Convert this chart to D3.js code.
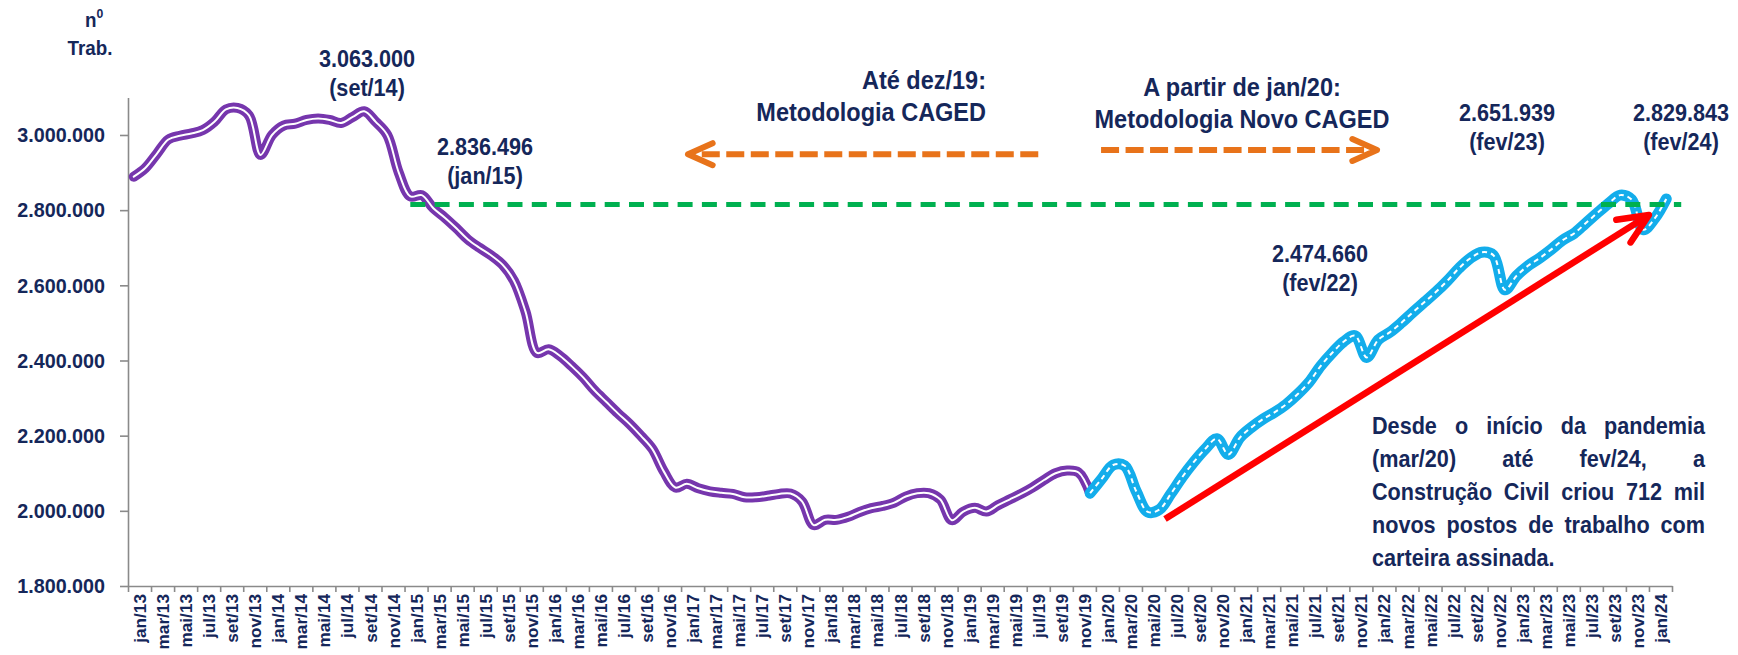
<!DOCTYPE html>
<html lang="pt-BR">
<head>
<meta charset="utf-8">
<title>Estoque de trabalhadores - Construção Civil</title>
<script src="https://cdn.jsdelivr.net/npm/d3@7/dist/d3.min.js"></script>
<style>
  html, body { margin: 0; padding: 0; background: #ffffff; }
  svg { display: block; }
  text { font-family: "Liberation Sans", Arial, sans-serif; font-weight: bold; fill: #15275a; }
</style>
</head>
<body>
<svg id="chart" width="1738" height="655"></svg>
<script>
// ---- data -------------------------------------------------------------
const monthNames = ["jan", "fev", "mar", "abr", "mai", "jun", "jul", "ago", "set", "out", "nov", "dez"];
const years = [13, 14, 15, 16, 17, 18, 19, 20, 21, 22, 23, 24];
const lastMonth = "fev/24";

// Estoque mensal de trabalhadores, metodologia CAGED (jan/13 a dez/19)
const cagedValues = [
  2889000, 2912000, 2950000, 2988000, 2998000, 3004000, 3013000, 3035000, 3068000, 3072000, 3052000, 2947000,
  3000000, 3025000, 3030000, 3040000, 3044000, 3040000, 3032000, 3048000, 3063000, 3035000, 3000000, 2900000,
  2836496, 2840000, 2805000, 2780000, 2752000, 2722000, 2700000, 2680000, 2655000, 2612000, 2530000, 2420000,
  2430000, 2412000, 2385000, 2355000, 2320000, 2290000, 2260000, 2232000, 2200000, 2165000, 2105000, 2062000,
  2072000, 2060000, 2052000, 2048000, 2045000, 2036000, 2036000, 2040000, 2045000, 2046000, 2025000, 1962000,
  1976000, 1976000, 1984000, 1997000, 2007000, 2013000, 2022000, 2038000, 2047000, 2047000, 2030000, 1975000,
  1998000, 2008000, 1998000, 2015000, 2030000, 2045000, 2062000, 2082000, 2100000, 2107000, 2102000, 2047000
];

// Estoque mensal de trabalhadores, metodologia Novo CAGED (jan/20 a fev/24)
const novoCagedValues = [
  2085000, 2122000, 2120000, 2052000, 1997000, 2003000, 2045000, 2090000, 2130000, 2165000, 2192000, 2150000,
  2195000, 2222000, 2244000, 2262000, 2283000, 2310000, 2342000, 2385000, 2420000, 2450000, 2466000, 2408000,
  2455000, 2474660, 2500000, 2528000, 2555000, 2582000, 2612000, 2645000, 2672000, 2688000, 2680000, 2588000,
  2625000, 2651939, 2672000, 2695000, 2720000, 2738000, 2765000, 2792000, 2818000, 2840000, 2828000, 2748000,
  2778000, 2829843
];

const yTickValues = [1800000, 2000000, 2200000, 2400000, 2600000, 2800000, 3000000];
const highlightedMonths = ["set/14", "jan/15", "fev/22", "fev/23", "fev/24"];
const recoveryLevel = 2815000;

const methodologyNotes = [
  ["Até dez/19:", "Metodologia CAGED"],
  ["A partir de jan/20:", "Metodologia Novo CAGED"]
];
const pandemicNote = [
  "Desde o início da pandemia",
  "(mar/20) até fev/24, a",
  "Construção Civil criou 712 mil",
  "novos postos de trabalho com",
  "carteira assinada."
];

// month labels "jan/13" ... "fev/24"
const categories = [];
years.forEach(yr => monthNames.forEach(m => categories.push(`${m}/${yr}`)));
categories.length = categories.indexOf(lastMonth) + 1;

// ---- layout -----------------------------------------------------------
const SX = 0.94;                       // horizontal text compression
const axisGrey = "#8a8a8a";
const purple = "#7636ad";
const blue = "#13adeb";
const green = "#00b050";
const orange = "#e8731a";
const red = "#ff0000";

const svg = d3.select("#chart");
const fmt = d3.formatLocale({ decimal: ",", thousands: ".", grouping: [3], currency: ["R$", ""] }).format(",d");

const y = d3.scaleLinear().domain([1800000, 3100000]).range([586, 97.4]);
const xIdx = d3.scaleLinear().domain([0, categories.length]).range([128, 1672]);
const xMid = i => xIdx(i + 0.5);

function addText(parent, x, yPos, str, size, anchor) {
  return parent.append("text")
    .attr("transform", `translate(${x},${yPos}) scale(${SX},1)`)
    .attr("text-anchor", anchor || "middle")
    .style("font-size", size + "px")
    .text(str);
}

// ---- axes -------------------------------------------------------------
const yAxis = svg.append("g")
  .attr("transform", `translate(${xIdx(0)},0)`)
  .call(d3.axisLeft(y).tickValues(yTickValues).tickSize(8).tickSizeOuter(0).tickFormat(fmt));
yAxis.select(".domain").attr("stroke", axisGrey).attr("stroke-width", 1.6);
yAxis.selectAll(".tick line").attr("stroke", axisGrey).attr("stroke-width", 1.6);
yAxis.selectAll(".tick text")
  .attr("x", -23 / SX)
  .attr("transform", `scale(${SX},1)`)
  .style("font-size", "21px");

const xAxis = svg.append("g")
  .attr("transform", `translate(0,${y(1800000)})`)
  .call(d3.axisBottom(xIdx).tickValues(d3.range(0, categories.length + 1, 2)).tickSize(6).tickSizeOuter(0).tickFormat(""));
xAxis.select(".domain").attr("stroke", axisGrey).attr("stroke-width", 1.6);
xAxis.selectAll(".tick line").attr("stroke", axisGrey).attr("stroke-width", 1.6);

const xLabels = svg.append("g")
  .attr("transform", `translate(0,${y(1800000)})`)
  .call(d3.axisBottom(xIdx).tickValues(d3.range(1, categories.length, 2)).tickSize(0).tickFormat(v => categories[v - 1]));
xLabels.select(".domain").remove();
xLabels.selectAll(".tick text")
  .attr("x", -8).attr("y", 0).attr("dy", "0.35em")
  .attr("transform", "rotate(-90)")
  .style("text-anchor", "end")
  .style("font-size", "17.2px");

// ---- series -----------------------------------------------------------
const line = d3.line()
  .x(d => xMid(d.i))
  .y(d => y(d.v))
  .curve(d3.curveCatmullRom.alpha(0.5));

const cagedPoints = cagedValues.map((v, i) => ({ i, v }));
const lastCaged = cagedPoints[cagedPoints.length - 1];
const novoPoints = [lastCaged].concat(novoCagedValues.map((v, k) => ({ i: cagedValues.length + k, v })));

const series = svg.append("g").attr("fill", "none").attr("stroke-linecap", "round").attr("stroke-linejoin", "round");
series.append("path").attr("d", line(cagedPoints)).attr("stroke", purple).attr("stroke-width", 10);
series.append("path").attr("d", line(cagedPoints)).attr("stroke", "#ffffff").attr("stroke-width", 2);
series.append("path").attr("d", line(novoPoints)).attr("stroke", blue).attr("stroke-width", 11);
series.append("path").attr("d", line(novoPoints)).attr("stroke", "#ffffff").attr("stroke-width", 2)
  .attr("stroke-dasharray", "5 4").attr("stroke-linecap", "butt");

// ---- reference level since jan/15 ------------------------------------
const jan15 = categories.indexOf("jan/15");
svg.append("line")
  .attr("x1", xMid(jan15)).attr("x2", xIdx(categories.length + 0.8))
  .attr("y1", y(recoveryLevel)).attr("y2", y(recoveryLevel))
  .attr("stroke", green).attr("stroke-width", 5).attr("stroke-dasharray", "15 9.3");

// ---- arrows -----------------------------------------------------------
function chevron(g, tip, angle, len, color, width) {
  const a1 = angle + 24 * Math.PI / 180, a2 = angle - 24 * Math.PI / 180;
  g.append("path")
    .attr("d", `M${tip[0] + len * Math.cos(a1)},${tip[1] + len * Math.sin(a1)}L${tip[0]},${tip[1]}L${tip[0] + len * Math.cos(a2)},${tip[1] + len * Math.sin(a2)}`)
    .attr("fill", "none").attr("stroke", color).attr("stroke-width", width)
    .attr("stroke-linecap", "round").attr("stroke-linejoin", "round");
}

const arrows = svg.append("g");
// CAGED period arrow (pointing back in time)
{
  const tail = [xIdx(79.0), y(2949000)], tip = [xIdx(48.6), y(2949000)];
  arrows.append("line").attr("x1", tail[0]).attr("y1", tail[1]).attr("x2", tip[0] + 4).attr("y2", tip[1])
    .attr("stroke", orange).attr("stroke-width", 6).attr("stroke-dasharray", "18 6.5");
  chevron(arrows, tip, 0, 27, orange, 6);
}
// Novo CAGED period arrow (pointing forward in time)
{
  const tail = [xIdx(84.45), y(2960000)], tip = [xIdx(108.4), y(2960000)];
  arrows.append("line").attr("x1", tail[0]).attr("y1", tail[1]).attr("x2", tip[0] - 4).attr("y2", tip[1])
    .attr("stroke", orange).attr("stroke-width", 6).attr("stroke-dasharray", "18 6.5");
  chevron(arrows, tip, Math.PI, 27, orange, 6);
}
// growth since the pandemic
{
  const tail = [xIdx(90.0), y(1978000)], tip = [xIdx(132.0), y(2787000)];
  arrows.append("line").attr("x1", tail[0]).attr("y1", tail[1]).attr("x2", tip[0]).attr("y2", tip[1])
    .attr("stroke", red).attr("stroke-width", 6.5);
  const back = Math.atan2(tail[1] - tip[1], tail[0] - tip[0]);
  chevron(arrows, tip, back, 33, red, 6.5);
}

// ---- texts ------------------------------------------------------------
const texts = svg.append("g");

// unit label
const unit = texts.append("text")
  .attr("transform", `translate(85,27) scale(${SX},1)`)
  .style("font-size", "20px");
unit.append("tspan").text("n");
unit.append("tspan").attr("dy", -9).style("font-size", "13px").text("0");
addText(texts, 90, 55, "Trab.", 20);

// highlighted values
const highlightPos = {
  "set/14": [367, 67],
  "jan/15": [485, 155],
  "fev/22": [1320, 262],
  "fev/23": [1507, 121],
  "fev/24": [1681, 121]
};
highlightedMonths.forEach(m => {
  const idx = categories.indexOf(m);
  const v = idx < cagedValues.length ? cagedValues[idx] : novoCagedValues[idx - cagedValues.length];
  const [cx, by] = highlightPos[m];
  addText(texts, cx, by, fmt(v), 23);
  addText(texts, cx, by + 29, `(${m})`, 23);
});

// methodology notes
addText(texts, 986, 89, methodologyNotes[0][0], 25, "end");
addText(texts, 986, 121, methodologyNotes[0][1], 25, "end");
addText(texts, 1242, 96, methodologyNotes[1][0], 25);
addText(texts, 1242, 128, methodologyNotes[1][1], 25);

// justified note
{
  const left = 1372, right = 1705, top = 434, lead = 33, size = 23;
  const width = (right - left) / SX;
  pandemicNote.forEach((ln, k) => {
    const g = texts.append("g").attr("transform", `translate(${left},${top + k * lead}) scale(${SX},1)`);
    const words = ln.split(" ");
    const nodes = words.map(w => g.append("text").style("font-size", size + "px").text(w));
    const widths = nodes.map(n => n.node().getComputedTextLength());
    const isLast = k === pandemicNote.length - 1;
    const gap = isLast ? 0.278 * size : (width - d3.sum(widths)) / (words.length - 1);
    let x = 0;
    nodes.forEach((n, j) => { n.attr("x", x); x += widths[j] + gap; });
  });
}
</script>
</body>
</html>
